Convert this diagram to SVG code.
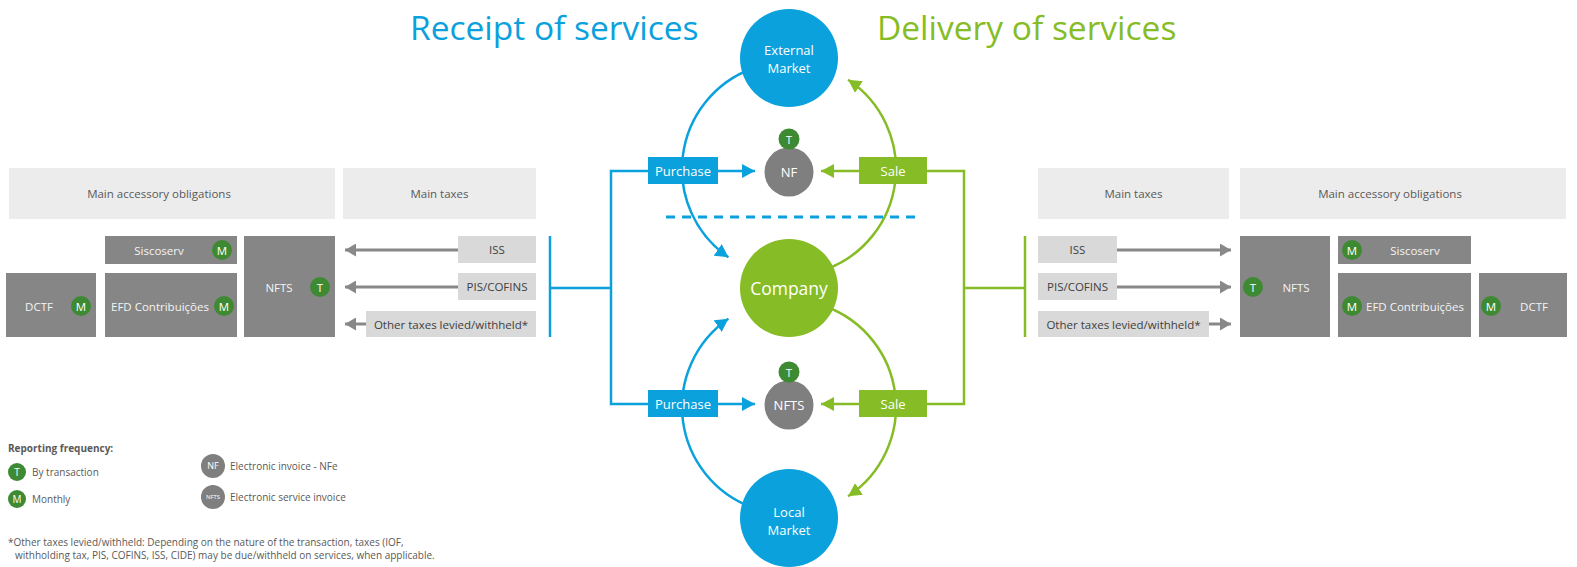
<svg xmlns="http://www.w3.org/2000/svg" width="1577" height="567" viewBox="0 0 1577 567">
  <style>
    text { font-family: "Open Sans", "Noto Sans", "Liberation Sans", sans-serif; }
    .title { font-size: 33.5px; }
    .hdr { fill: #ececec; }
    .hdr-t { font-size: 11.5px; fill: #595959; text-anchor: middle; dominant-baseline: central; }
    .tax { fill: #d9d9d9; }
    .tax-t { font-size: 11.5px; fill: #404040; text-anchor: middle; dominant-baseline: central; }
    .obl { fill: #868686; }
    .obl-t { font-size: 11.5px; fill: #f4f4f4; text-anchor: middle; dominant-baseline: central; }
    .badge { fill: #3e8a33; }
    .badge-t { font-size: 11.5px; fill: #ffffff; text-anchor: middle; dominant-baseline: central; }
    .garrow { stroke: #888888; stroke-width: 3; fill: none; marker-end: url(#ah-gray); }
    .blue-l { stroke: #0ba1dd; stroke-width: 2.5; fill: none; }
    .green-l { stroke: #86bc25; stroke-width: 2.5; fill: none; }
    .lbl-t { font-size: 13px; fill: #ffffff; text-anchor: middle; dominant-baseline: central; }
    .circ-t { font-size: 13px; fill: #ffffff; text-anchor: middle; dominant-baseline: central; }
    .leg-t { font-size: 10px; fill: #595959; dominant-baseline: central; }
  </style>
  <defs>
    <marker id="ah-gray" markerUnits="userSpaceOnUse" markerWidth="12" markerHeight="13" refX="11" refY="6.5" orient="auto">
      <path d="M0,0 L11,6.5 L0,13 z" fill="#888888"/>
    </marker>
    <marker id="ah-blue" markerUnits="userSpaceOnUse" markerWidth="14" markerHeight="14" refX="13" refY="7" orient="auto">
      <path d="M0,0 L13,7 L0,14 z" fill="#0ba1dd"/>
    </marker>
    <marker id="ah-green" markerUnits="userSpaceOnUse" markerWidth="14" markerHeight="14" refX="13" refY="7" orient="auto">
      <path d="M0,0 L13,7 L0,14 z" fill="#86bc25"/>
    </marker>
  </defs>

  <!-- titles -->
  <text class="title" x="410" y="40" fill="#0ba1dd">Receipt of services</text>
  <text class="title" x="877" y="40" fill="#86bc25">Delivery of services</text>

  <!-- connectors -->
  <g id="connectors">
    <!-- left bracket (purchases) -->
    <path class="blue-l" d="M550,236 V337"/>
    <path class="blue-l" d="M550,288 H611 M648,171 H611 V404 H648"/>
    <!-- right bracket (sales) -->
    <path class="green-l" d="M1025,236 V337"/>
    <path class="green-l" d="M1025,288 H964 M927,171 H964 V404 H927"/>
    <!-- labels to invoices -->
    <path class="blue-l" d="M718,171 H755" marker-end="url(#ah-blue)"/>
    <path class="blue-l" d="M718,404 H755" marker-end="url(#ah-blue)"/>
    <path class="green-l" d="M859,171 H821" marker-end="url(#ah-green)"/>
    <path class="green-l" d="M859,404 H821" marker-end="url(#ah-green)"/>
    <!-- flow arcs -->
    <path class="blue-l" d="M752.4,68.5 A107,107 0 0 0 728.4,257.2" marker-end="url(#ah-blue)"/>
    <path class="green-l" d="M825.6,269.5 A107,107 0 0 0 848.1,79.8" marker-end="url(#ah-green)"/>
    <path class="blue-l" d="M752.4,507.5 A107,107 0 0 1 728.4,318.8" marker-end="url(#ah-blue)"/>
    <path class="green-l" d="M825.6,306.5 A107,107 0 0 1 848.1,496.2" marker-end="url(#ah-green)"/>
    <!-- divider -->
    <path d="M666,217 H915" stroke="#0ba1dd" stroke-width="3" stroke-dasharray="9 7" fill="none"/>
    <!-- tax arrows, left -->
    <path class="garrow" d="M458,250 H345"/>
    <path class="garrow" d="M458,287 H345"/>
    <path class="garrow" d="M366,324 H345"/>
    <!-- tax arrows, right -->
    <path class="garrow" d="M1117,250 H1231"/>
    <path class="garrow" d="M1117,287 H1231"/>
    <path class="garrow" d="M1209,324 H1231"/>
  </g>

  <!-- central flow nodes -->
  <g id="external-market">
    <circle cx="789" cy="58" r="49" fill="#0ba1dd"/>
    <text class="circ-t" x="789" y="50">External</text>
    <text class="circ-t" x="789" y="68">Market</text>
  </g>
  <g id="company">
    <circle cx="789" cy="288" r="49" fill="#86bc25"/>
    <text class="circ-t" x="789" y="288" style="font-size:17.5px">Company</text>
  </g>
  <g id="local-market">
    <circle cx="789" cy="518" r="49" fill="#0ba1dd"/>
    <text class="circ-t" x="789" y="512">Local</text>
    <text class="circ-t" x="789" y="530">Market</text>
  </g>
  <g id="nf">
    <circle cx="789" cy="172" r="24.5" fill="#7f7f7f"/>
    <text class="circ-t" x="789" y="172">NF</text>
    <circle class="badge" cx="789" cy="139" r="10.5"/>
    <text class="badge-t" x="789" y="139">T</text>
  </g>
  <g id="nfts">
    <circle cx="789" cy="405" r="24.5" fill="#7f7f7f"/>
    <text class="circ-t" x="789" y="405">NFTS</text>
    <circle class="badge" cx="789" cy="372" r="10.5"/>
    <text class="badge-t" x="789" y="372">T</text>
  </g>
  <g id="purchase-top">
    <rect x="648" y="157" width="70" height="27" fill="#0ba1dd"/>
    <text class="lbl-t" x="683" y="170.5">Purchase</text>
  </g>
  <g id="purchase-bottom">
    <rect x="648" y="390" width="70" height="27" fill="#0ba1dd"/>
    <text class="lbl-t" x="683" y="403.5">Purchase</text>
  </g>
  <g id="sale-top">
    <rect x="859" y="157" width="68" height="27" fill="#86bc25"/>
    <text class="lbl-t" x="893" y="170.5">Sale</text>
  </g>
  <g id="sale-bottom">
    <rect x="859" y="390" width="68" height="27" fill="#86bc25"/>
    <text class="lbl-t" x="893" y="403.5">Sale</text>
  </g>

  <!-- left panel: receipt of services -->
  <g id="left-hdr-obligations">
    <rect class="hdr" x="9" y="168" width="326" height="51"/>
    <text class="hdr-t" x="159" y="193.5">Main accessory obligations</text>
  </g>
  <g id="left-hdr-taxes">
    <rect class="hdr" x="343" y="168" width="193" height="51"/>
    <text class="hdr-t" x="439.5" y="193.5">Main taxes</text>
  </g>
  <g id="left-siscoserv">
    <rect class="obl" x="105" y="236" width="132" height="28"/>
    <text class="obl-t" x="159" y="250">Siscoserv</text>
    <circle class="badge" cx="222" cy="250" r="10"/>
    <text class="badge-t" x="222" y="250">M</text>
  </g>
  <g id="left-dctf">
    <rect class="obl" x="6" y="273" width="90" height="64"/>
    <text class="obl-t" x="39" y="306">DCTF</text>
    <circle class="badge" cx="81" cy="306" r="10"/>
    <text class="badge-t" x="81" y="306">M</text>
  </g>
  <g id="left-efd">
    <rect class="obl" x="105" y="273" width="132" height="64"/>
    <text class="obl-t" x="160" y="306">EFD Contribuições</text>
    <circle class="badge" cx="224" cy="306" r="10"/>
    <text class="badge-t" x="224" y="306">M</text>
  </g>
  <g id="left-nfts">
    <rect class="obl" x="244" y="236" width="91" height="101"/>
    <text class="obl-t" x="279" y="287">NFTS</text>
    <circle class="badge" cx="320" cy="287" r="10"/>
    <text class="badge-t" x="320" y="287">T</text>
  </g>
  <g id="left-iss">
    <rect class="tax" x="458" y="236" width="78" height="27"/>
    <text class="tax-t" x="497" y="249.5">ISS</text>
  </g>
  <g id="left-piscofins">
    <rect class="tax" x="458" y="273" width="78" height="27"/>
    <text class="tax-t" x="497" y="286.5">PIS/COFINS</text>
  </g>
  <g id="left-other">
    <rect class="tax" x="366" y="311" width="170" height="26"/>
    <text class="tax-t" x="451" y="324">Other taxes levied/withheld*</text>
  </g>

  <!-- right panel: delivery of services -->
  <g id="right-hdr-taxes">
    <rect class="hdr" x="1038" y="168" width="191" height="51"/>
    <text class="hdr-t" x="1133.5" y="193.5">Main taxes</text>
  </g>
  <g id="right-hdr-obligations">
    <rect class="hdr" x="1240" y="168" width="326" height="51"/>
    <text class="hdr-t" x="1390" y="193.5">Main accessory obligations</text>
  </g>
  <g id="right-iss">
    <rect class="tax" x="1038" y="236" width="79" height="27"/>
    <text class="tax-t" x="1077.5" y="249.5">ISS</text>
  </g>
  <g id="right-piscofins">
    <rect class="tax" x="1038" y="273" width="79" height="27"/>
    <text class="tax-t" x="1077.5" y="286.5">PIS/COFINS</text>
  </g>
  <g id="right-other">
    <rect class="tax" x="1038" y="311" width="171" height="26"/>
    <text class="tax-t" x="1123.5" y="324">Other taxes levied/withheld*</text>
  </g>
  <g id="right-nfts">
    <rect class="obl" x="1240" y="236" width="90" height="101"/>
    <circle class="badge" cx="1253" cy="287" r="10"/>
    <text class="badge-t" x="1253" y="287">T</text>
    <text class="obl-t" x="1296" y="287">NFTS</text>
  </g>
  <g id="right-siscoserv">
    <rect class="obl" x="1338" y="236" width="133" height="28"/>
    <circle class="badge" cx="1352" cy="250" r="10"/>
    <text class="badge-t" x="1352" y="250">M</text>
    <text class="obl-t" x="1415" y="250">Siscoserv</text>
  </g>
  <g id="right-efd">
    <rect class="obl" x="1338" y="273" width="133" height="64"/>
    <circle class="badge" cx="1352" cy="306" r="10"/>
    <text class="badge-t" x="1352" y="306">M</text>
    <text class="obl-t" x="1415" y="306">EFD Contribuições</text>
  </g>
  <g id="right-dctf">
    <rect class="obl" x="1479" y="273" width="88" height="64"/>
    <circle class="badge" cx="1491" cy="306" r="10"/>
    <text class="badge-t" x="1491" y="306">M</text>
    <text class="obl-t" x="1534" y="306">DCTF</text>
  </g>

  <!-- legend -->
  <g id="legend">
    <text x="8" y="448" style="font-size:10px;font-weight:bold;fill:#595959;dominant-baseline:central">Reporting frequency:</text>
    <circle class="badge" cx="17" cy="472" r="9"/>
    <text class="badge-t" x="17" y="472" style="font-size:10px">T</text>
    <text class="leg-t" x="32" y="472">By transaction</text>
    <circle class="badge" cx="17" cy="499" r="9"/>
    <text class="badge-t" x="17" y="499" style="font-size:10px">M</text>
    <text class="leg-t" x="32" y="499">Monthly</text>
    <circle cx="213" cy="466" r="12" fill="#7f7f7f"/>
    <text class="badge-t" x="213" y="465" style="font-size:9px">NF</text>
    <text class="leg-t" x="230" y="466">Electronic invoice - NFe</text>
    <circle cx="213" cy="497" r="12" fill="#7f7f7f"/>
    <text class="badge-t" x="213" y="497" style="font-size:6px">NFTS</text>
    <text class="leg-t" x="230" y="497">Electronic service invoice</text>
  </g>

  <!-- footnote -->
  <text x="8" y="542" style="font-size:10px;fill:#595959;dominant-baseline:central">*Other taxes levied/withheld: Depending on the nature of the transaction, taxes (IOF,</text>
  <text x="15" y="555" style="font-size:10px;fill:#595959;dominant-baseline:central">withholding tax, PIS, COFINS, ISS, CIDE) may be due/withheld on services, when applicable.</text>
</svg>
